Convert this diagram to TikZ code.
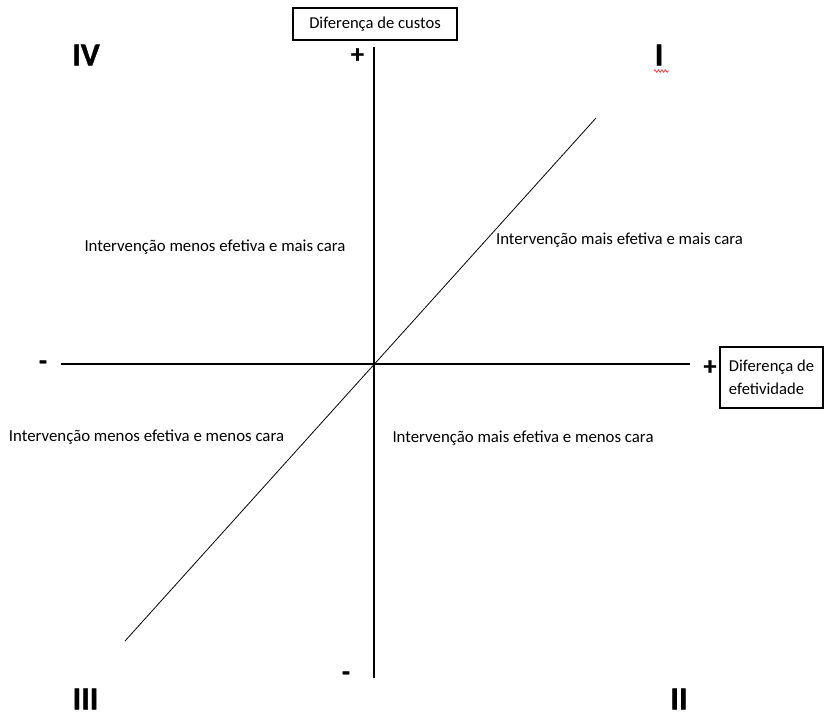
\documentclass[tikz,border=0pt]{standalone}
\usepackage{fontspec}
\setmainfont{Carlito}
\newfontfamily\grossa{Carlito}[BoldFeatures={FakeBold=1.2}]
\usetikzlibrary{decorations.pathmorphing}
\tikzset{
  eixo/.style={line width=1.5pt},
  diag/.style={line width=0.8pt},
  caixa/.style={draw,line width=1.3pt,inner sep=0pt,font=\fontsize{16.6}{23}\selectfont},
  rotulo/.style={font=\fontsize{16.8}{20}\selectfont},
  quad/.style={inner sep=0pt,font=\grossa\bfseries\fontsize{32}{36}\selectfont},
  sinal/.style={inner sep=0pt,font=\grossa\bfseries\fontsize{26}{30}\selectfont}
}
\begin{document}
\begin{tikzpicture}[x=1pt,y=-1pt]
  \useasboundingbox (0,0) rectangle (824,717);
  % caixas dos eixos
  \node[caixa,minimum width=164pt,minimum height=32pt] (custos) at (375,24) {Diferença de custos};
  \node[caixa,minimum width=103pt,minimum height=61pt,align=left] (efetiv) at (771.5,377.5) {Diferença de\\efetividade};
  % eixos e diagonal
  \coordinate (xmin) at (61,364);
  \coordinate (xmax) at (690,364);
  \coordinate (ymax) at (374,47);
  \coordinate (ymin) at (374,678);
  \coordinate (dbaixo) at (125,641);
  \coordinate (dcima) at (596,118);
  \draw[eixo] (xmin) -- (xmax);
  \draw[eixo] (ymax) -- (ymin);
  \draw[diag] (dbaixo) -- (dcima);
  % sinais
  \node[sinal] (ymais) at (357.5,55.5) {+};
  \node[sinal] (xmais) at (710,367.5) {+};
  \node[sinal] (xmenos) at (43,365) {-};
  \node[sinal] (ymenos) at (346,676) {-};
  % quadrantes
  \node[quad] (qiv) at (86,55) {IV};
  \node[quad] (qi) at (659,55) {I};
  \node[quad] (qiii) at (85.5,699) {III};
  \node[quad] (qii) at (679,699) {II};
  \draw[red!80,line width=0.7pt,decorate,decoration={zigzag,amplitude=1.3pt,segment length=3.5pt}]
    (654,71) -- (669,71);
  % rotulos
  \node[rotulo] (r4) at (215,247) {Intervenção menos efetiva e mais cara};
  \node[rotulo] (r1) at (619.5,240) {Intervenção mais efetiva e mais cara};
  \node[rotulo] (r3) at (146.5,437) {Intervenção menos efetiva e menos cara};
  \node[rotulo] (r2) at (523,438) {Intervenção mais efetiva e menos cara};
\end{tikzpicture}
\end{document}
